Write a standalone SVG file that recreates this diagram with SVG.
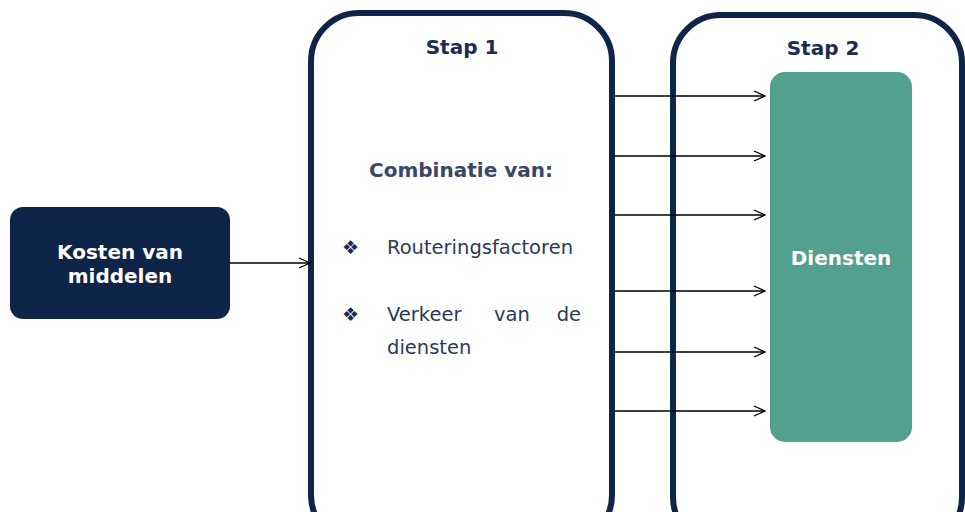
<svg xmlns="http://www.w3.org/2000/svg" width="965" height="512" viewBox="0 0 965 512">
<style>
.frame{fill:#fff;stroke:#0e2549;stroke-width:6}
.title{font-family:"DejaVu Sans",Verdana,sans-serif;font-weight:bold;font-size:20px;fill:#1b2d50;text-anchor:middle}
.wt{font-family:"DejaVu Sans",Verdana,sans-serif;font-weight:bold;font-size:20px;fill:#fff;text-anchor:middle}
.body{font-family:"DejaVu Sans",Verdana,sans-serif;font-size:19.5px;fill:#2a3a5c}
.bul{font-family:"DejaVu Sans",sans-serif;font-size:19px;fill:#1b2d50}
.conn line{stroke:#000;stroke-width:1.3;marker-end:url(#arr)}
</style>
<defs>
<marker id="arr" markerWidth="14" markerHeight="12" refX="12" refY="6" orient="auto" markerUnits="userSpaceOnUse">
<path d="M1,1 L12,6 L1,11" fill="none" stroke="#000" stroke-width="1.3"/>
</marker>
</defs>
<rect width="965" height="512" fill="#fff"/>
<g id="stap2">
<rect class="frame" x="673" y="15" width="289" height="530" rx="48"/>
<text class="title" x="823" y="55">Stap 2</text>
</g>
<g id="stap1">
<rect class="frame" x="311" y="13" width="301" height="530" rx="48"/>
<text class="title" x="462" y="54">Stap 1</text>
<text class="title" x="461" y="177" style="fill:#3a4768">Combinatie van:</text>
<text class="bul" x="342" y="254">❖</text>
<text class="body" x="387" y="254">Routeringsfactoren</text>
<text class="bul" x="342" y="321">❖</text>
<text class="body" x="387" y="321">Verkeer</text>
<text class="body" x="494" y="321">van</text>
<text class="body" x="581" y="321" text-anchor="end">de</text>
<text class="body" x="387" y="354">diensten</text>
</g>
<g id="kosten">
<rect x="10" y="207" width="220" height="112" rx="13" fill="#0e2549"/>
<text class="wt" x="120" y="259">Kosten van</text>
<text class="wt" x="120" y="283">middelen</text>
</g>
<g id="diensten">
<rect x="770" y="72" width="142" height="370" rx="15" fill="#53a08e"/>
<text class="wt" x="841" y="265">Diensten</text>
</g>
<g class="conn" id="connectors">
<line x1="230" y1="263" x2="310" y2="263"/>
<line x1="614" y1="96" x2="765" y2="96"/>
<line x1="614" y1="156" x2="765" y2="156"/>
<line x1="614" y1="215" x2="765" y2="215"/>
<line x1="614" y1="291" x2="765" y2="291"/>
<line x1="614" y1="352" x2="765" y2="352"/>
<line x1="614" y1="411" x2="765" y2="411"/>
</g>
</svg>
